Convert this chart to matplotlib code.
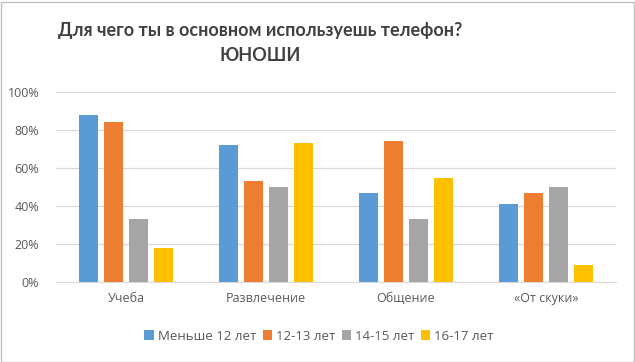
import numpy as np
import matplotlib.pyplot as plt
from matplotlib.patches import Rectangle
from matplotlib.ticker import PercentFormatter

plt.rcParams['font.family'] = ['Open Sans', 'DejaVu Sans']

categories = ['Учеба', 'Развлечение', 'Общение', '«От скуки»']
series_names = ['Меньше 12 лет', '12-13 лет', '14-15 лет', '16-17 лет']
under12 = [88, 72, 47, 41]
age12_13 = [84, 53, 74, 47]
age14_15 = [33, 50, 33, 50]
age16_17 = [18, 73, 55, 9]
colors = ['#5B9BD5', '#ED7D31', '#A5A5A5', '#FFC000']


def main():
    fig = plt.figure(figsize=(6.35, 3.62), dpi=100)
    ax = fig.add_axes([56 / 635, 1 - 282 / 362, 560 / 635, 190 / 362])

    x = np.arange(len(categories))
    pitch = 0.179
    width = 0.136
    values = [under12, age12_13, age14_15, age16_17]
    for i, (vals, name, c) in enumerate(zip(values, series_names, colors)):
        ax.bar(x + (i - 1.5) * pitch, vals, width, color=c, label=name, zorder=3)

    ax.set_xlim(-0.5, len(categories) - 0.5)
    ax.set_ylim(0, 100)
    ax.set_yticks(range(0, 101, 20))
    ax.yaxis.set_major_formatter(PercentFormatter(decimals=0))
    ax.grid(axis='y', color='#D9D9D9', lw=0.9, zorder=0)
    for s in ['top', 'right', 'left']:
        ax.spines[s].set_visible(False)
    ax.spines['bottom'].set_color('#D9D9D9')
    ax.tick_params(axis='both', length=0, colors='#595959', labelsize=9)
    ax.tick_params(axis='y', pad=12)
    ax.tick_params(axis='x', pad=7)
    ax.set_xticks(x)
    ax.set_xticklabels(categories)

    fig.text(260 / 635, 1 - 43 / 362, 'Для чего ты в основном используешь телефон?\nЮНОШИ',
             ha='center', va='center', fontsize=13, fontweight='bold',
             family=['Lato', 'DejaVu Sans'], color='#404040', linespacing=1.55)

    ax.legend(loc='center', bbox_to_anchor=(0.5 - 17 / 560, (282 - 336) / 190), ncol=4,
              frameon=False, fontsize=9.5, labelcolor='#595959',
              handlelength=0.7, handleheight=0.7, handletextpad=0.3,
              columnspacing=0.5)

    fig.patches.append(Rectangle((0.5 / 635, 0.5 / 362), 633 / 635, 360 / 362,
                                 transform=fig.transFigure, fill=False,
                                 edgecolor='#BFBFBF', lw=1))

    fig.savefig('out.png', dpi=100)


if __name__ == "__main__":
    main()
